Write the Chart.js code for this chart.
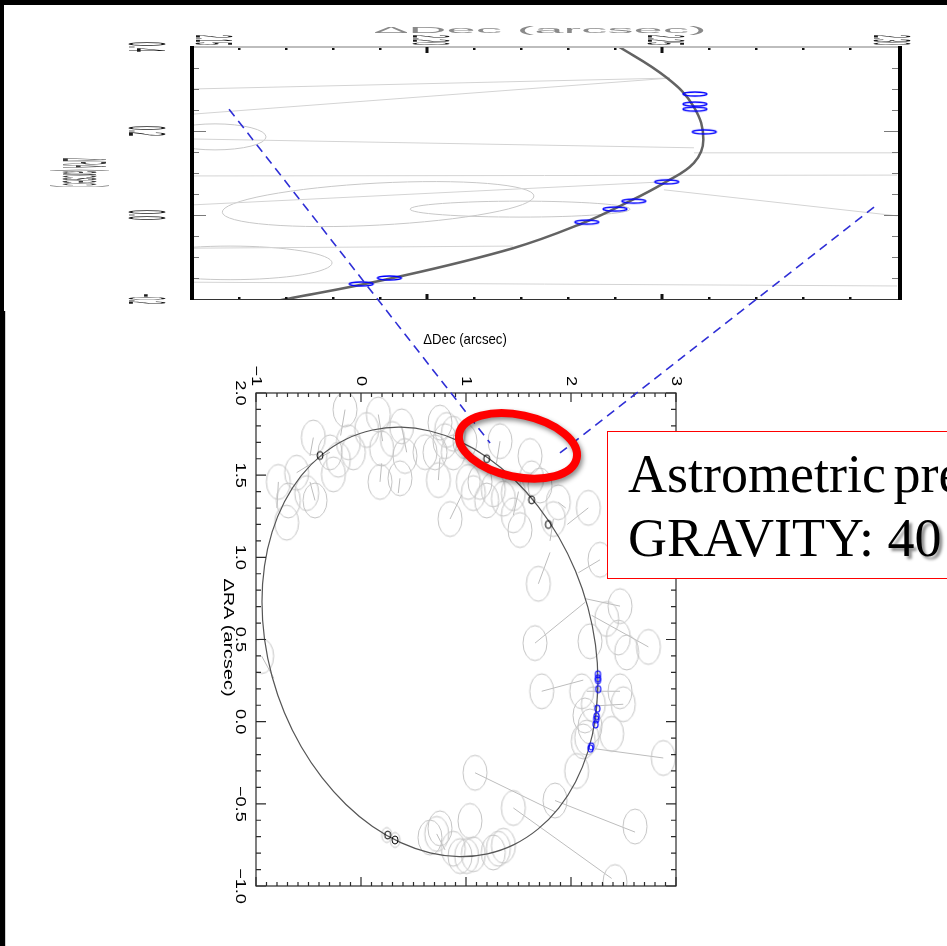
<!DOCTYPE html>
<html>
<head>
<meta charset="utf-8">
<script src="https://cdn.jsdelivr.net/npm/chart.js@4.4.1/dist/chart.umd.min.js"></script>
<style>
html,body{margin:0;padding:0;background:#fff;width:947px;height:946px;overflow:hidden;position:relative;}
canvas{position:absolute;left:0;top:0;}
#inset{z-index:1}
#main{z-index:2}
.bar{position:absolute;background:#000;z-index:6}
#box{position:absolute;left:607px;top:431px;width:420px;height:146px;border:1.5px solid #ff0000;background:#fff;z-index:5;overflow:hidden;
 font-family:"Liberation Serif","Times New Roman",serif;font-size:54px;color:#000;}
#box div{position:absolute;left:20px;line-height:54px;white-space:nowrap;}
#l1{top:15px;word-spacing:-6px;}
#l2{top:79px;}
#l2 span{text-shadow:3px 3px 3px rgba(0,0,0,0.45);}
</style>
</head>
<body>
<div class="bar" style="left:0;top:0;width:947px;height:5px"></div>
<div class="bar" style="left:0;top:0;width:4px;height:311px"></div>
<div class="bar" style="left:0;top:311px;width:5px;height:635px"></div>
<div style="position:absolute;left:5px;top:311px;width:1px;height:635px;background:#cfcfcf;z-index:6"></div>
<canvas id="inset" width="947" height="946"></canvas>
<canvas id="main" width="947" height="946"></canvas>
<div id="box"><div id="l1">Astrometric precision</div><div id="l2">GRAVITY: <span>40 µas</span></div></div>
<script>
// ================= DATA =================
// main plot axes
const decTickValues = [-1, 0, 1, 2, 3];
const decTickLabels = ['−1', '0', '1', '2', '3'];
const raTickValues = [2.0, 1.5, 1.0, 0.5, 0.0, -0.5, -1.0];
const raTickLabels = ['2.0', '1.5', '1.0', '0.5', '0.0', '−0.5', '−1.0'];

// orbit (ΔDec, ΔRA), closed
const orbitDec = [2.257, 2.233, 2.161, 2.043, 1.883, 1.685, 1.457, 1.204, 0.935, 0.657, 0.379, 0.110,
  -0.143, -0.371, -0.569, -0.729, -0.847, -0.919, -0.943, -0.919, -0.847, -0.729, -0.569, -0.371,
  -0.143, 0.110, 0.379, 0.657, 0.935, 1.204, 1.457, 1.685, 1.883, 2.043, 2.161, 2.233, 2.257, 2.233];
const orbitRA = [0.242, 0.023, -0.182, -0.367, -0.526, -0.654, -0.748, -0.804, -0.821, -0.798, -0.736, -0.638,
  -0.504, -0.341, -0.153, 0.054, 0.275, 0.502, 0.729, 0.948, 1.153, 1.338, 1.497, 1.625,
  1.719, 1.775, 1.792, 1.769, 1.707, 1.608, 1.475, 1.312, 1.124, 0.917, 0.696, 0.469, 0.242, 0.023];

// precise (black) measurements
const blackDec = [-0.390, 1.197, 1.625, 1.784, 0.254, 0.324];
const blackRA = [1.620, 1.600, 1.350, 1.200, -0.690, -0.720];

// GRAVITY (blue) measurements
const blueDec = [2.257, 2.257, 2.257, 2.259, 2.251, 2.244, 2.240, 2.234, 2.192, 2.186];
const blueRA = [0.288, 0.264, 0.252, 0.198, 0.079, 0.033, 0.014, -0.017, -0.150, -0.164];

// grey (confused) measurements
const greyDec = [
 -0.152, 0.165, -0.454, 0.054, 0.387, -0.295, -0.216, -0.073, 0.197, 0.419,
 -0.787, -0.613, -0.692, -0.708, -0.438, -0.263, 0.181, 0.371, -0.517, -0.120, 0.300,
 0.752, 0.816, 0.800, 0.879, 0.705, 0.879, 0.737, 0.990, 1.324, 1.133,
 1.022, 0.848, 1.197, 1.356, 1.451, 1.610, 1.625, 1.705, 1.879, 2.165,
 1.832, 1.514, 1.451, 1.260, 1.070, 0.610,
 2.276, 1.689, 2.467, 2.340, 2.451, 2.530, 2.737, 1.657, 2.181, 2.467,
 2.498, 2.102, 2.213, 2.387, 1.721, 2.181, 2.149, 2.879, 2.054, 1.848,
 2.610, 1.086, 1.451, 2.419, 2.117, 2.133,
 0.721, 0.752, 1.038, 0.943, 1.006, 1.070, 1.260, 1.308, 1.356, 0.657, 0.879,
 -0.946];
const greyRA = [
 1.899, 1.869, 1.729, 1.775, 1.797, 1.639, 1.594, 1.639, 1.662, 1.617,
 1.459, 1.515, 1.346, 1.211, 1.346, 1.505, 1.459, 1.481, 1.391, 1.700, 1.720,
 1.820, 1.775, 1.707, 1.752, 1.639, 1.639, 1.470, 1.707, 1.707, 1.459,
 1.459, 1.233, 1.346, 1.357, 1.391, 1.617, 1.481, 1.437, 1.335, 1.301,
 1.233, 1.166, 1.256, 1.414, 1.391, 1.640,
 0.985, 0.839, 0.703, 0.625, 0.512, 0.421, 0.455, 0.478, 0.489, 0.185,
 0.106, 0.185, 0.106, -0.074, 0.185, -0.029, -0.097, -0.221, -0.300, -0.480,
 -0.638, -0.311, -0.525, -0.976, -0.120, 0.038,
 -0.683, -0.649, -0.604, -0.818, -0.818, -0.807, -0.796, -0.773, -0.755, -0.705, -0.773,
 0.399];
const smallGreyDec = [0.245, 0.325];
const smallGreyRA = [-0.690, -0.720];

// grey residual lines (from measurement to orbit)
const segDecA = [-0.152, 0.165, -0.454, 0.387, -0.787, -0.613, -0.438, 0.181, 0.371, 0.737, 1.324, 0.848, 1.879, 2.165, 2.276, 1.689, 2.467, 2.737, 1.657, 2.467, 2.498, 1.721, 2.879, 1.848, 1.086, 1.451, -0.946, 0.721, -0.295, 1.451, 1.832];
const segRAA = [1.899, 1.869, 1.729, 1.797, 1.459, 1.515, 1.346, 1.459, 1.481, 1.470, 1.707, 1.233, 1.335, 1.301, 0.985, 0.839, 0.703, 0.455, 0.478, 0.185, 0.106, 0.185, -0.221, -0.480, -0.311, -0.525, 0.399, -0.683, 1.639, 1.256, 1.233];
const segDecB = [-0.194, 0.206, -0.486, 0.435, -0.800, -0.450, -0.486, 0.197, 0.355, 0.752, 1.290, 0.959, 1.950, 1.965, 2.070, 1.800, 2.133, 2.197, 2.133, 2.150, 2.210, 2.117, 2.229, 2.610, 1.848, 2.387, -0.830, 0.800, -0.390, 1.500, 1.800];
const segRAB = [1.741, 1.707, 1.617, 1.639, 1.300, 1.580, 1.459, 1.572, 1.391, 1.605, 1.572, 1.380, 1.300, 1.200, 0.906, 1.030, 0.749, 0.647, 0.726, 0.185, 0.095, 0.253, -0.165, -0.672, -0.548, -0.954, 0.264, -0.780, 1.610, 1.400, 1.100];

// inset (zoom on the pericentre region)
const insetDecTicks = [2.15, 2.20, 2.25, 2.30];
const insetDecLabels = ['2.15', '2.20', '2.25', '2.30'];
const insetRATicks = [0.4, 0.2, 0.0, -0.2];
const insetRALabels = ['0.4', '0.2', '0.0', '−0.2'];
const insetCurveDec = [2.236, 2.2409, 2.2511, 2.2568, 2.2588, 2.2568, 2.2504, 2.2428, 2.2332, 2.2183, 2.1927, 2.1702, 2.160];
const insetCurveRA = [0.430, 0.400, 0.326, 0.257, 0.179, 0.124, 0.076, 0.031, -0.019, -0.079, -0.150, -0.200, -0.220];
const insetSegDecA = [2.15, 2.15, 2.15, 2.2568, 2.15, 2.2504, 2.15, 2.15, 2.15];
const insetSegRAA = [0.300, 0.240, 0.181, 0.148, 0.093, 0.060, 0.024, -0.079, -0.160];
const insetSegDecB = [2.2517, 2.2517, 2.2568, 2.30, 2.30, 2.30, 2.2504, 2.2183, 2.30];
const insetSegRAB = [0.326, 0.326, 0.160, 0.148, 0.095, -0.002, 0.079, -0.074, -0.169];
const insetEllDec = [2.1549, 2.1896, 2.2198, 2.1581];
const insetEllRA = [0.186, 0.026, 0.014, -0.114];
const insetEllRDec = [0.01085, 0.0332, 0.0234, 0.0217];
const insetEllRRA = [0.031, 0.050, 0.019, 0.040];
const insetEllTilt = [0, -3, 0, 0];

// annotation anchors (main-plot data coordinates)
const annot = {
  lineA: [[-1.257, 3.727], [1.229, 1.696]],
  lineB: [[4.886, 3.131], [1.895, 1.635]],
  ring: [1.495, 1.678]
};

// ================= HELPERS =================
const pts = (xs, ys) => xs.map((x, i) => ({x: x, y: ys[i]}));
function segs(xa, ya, xb, yb) {
  const out = [];
  xa.forEach((x, i) => { out.push({x: x, y: ya[i]}, {x: xb[i], y: yb[i]}, {x: null, y: null}); });
  return out;
}
function ellImg(w, h, color, lw) {
  const c = document.createElement('canvas');
  const pad = Math.ceil(lw) + 1;
  c.width = w + 2 * pad; c.height = h + 2 * pad;
  const g = c.getContext('2d');
  g.strokeStyle = color; g.lineWidth = lw;
  g.beginPath(); g.ellipse(c.width / 2, c.height / 2, w / 2, h / 2, 0, 0, Math.PI * 2); g.stroke();
  return c;
}
function rotText(ctx, text, x, y, align, stretch) {
  ctx.save(); ctx.translate(x, y); ctx.rotate(Math.PI / 2); ctx.scale(stretch, 1);
  ctx.textAlign = align; ctx.textBaseline = 'middle'; ctx.fillText(text, 0, 0); ctx.restore();
}
function squash(ctx, text, cx, cy, readLen, thick, color, rot) {
  ctx.save();
  ctx.font = '20px "Liberation Sans", Arial, sans-serif';
  const w = ctx.measureText(text).width;
  ctx.translate(cx, cy); ctx.rotate(rot); ctx.scale(readLen / w, thick / 14.5);
  ctx.textAlign = 'center'; ctx.textBaseline = 'middle'; ctx.fillStyle = color;
  ctx.fillText(text, 0, 0);
  ctx.restore();
}
function seg(ctx, x1, y1, x2, y2) { ctx.moveTo(x1, y1); ctx.lineTo(x2, y2); }

// ================= MAIN PLOT =================
const mainDecor = {
  id: 'mainDecor',
  afterDatasetsDraw(chart) {
    const ctx = chart.ctx, a = chart.chartArea, x = chart.scales.x, y = chart.scales.y;
    ctx.save();
    ctx.strokeStyle = '#2a2a2a'; ctx.lineWidth = 1.2;
    ctx.strokeRect(a.left, a.top, a.right - a.left, a.bottom - a.top);
    ctx.beginPath();
    for (let i = 0; i <= 40; i++) {
      const px = x.getPixelForValue(-1 + i * 0.1);
      const L = (i % 10 === 0) ? 9 : 4;
      seg(ctx, px, a.top, px, a.top + L);
      seg(ctx, px, a.bottom, px, a.bottom - L);
    }
    for (let i = 0; i <= 30; i++) {
      const py = y.getPixelForValue(-1 + i * 0.1);
      const L = (i % 5 === 0) ? 10 : 5;
      seg(ctx, a.left, py, a.left + L, py);
      seg(ctx, a.right, py, a.right - L, py);
    }
    ctx.stroke();
    ctx.fillStyle = '#000';
    ctx.font = '14px "Liberation Sans", Arial, sans-serif';
    decTickValues.forEach((v, i) => rotText(ctx, decTickLabels[i], x.getPixelForValue(v), a.top - 7, 'right', 1.3));
    raTickValues.forEach((v, i) => rotText(ctx, raTickLabels[i], a.left - 16, y.getPixelForValue(v), 'center', 1.3));
    rotText(ctx, 'ΔRA (arcsec)', a.left - 28, (a.top + a.bottom) / 2 - 2, 'center', 1.42);
    ctx.save();
    ctx.font = '15px "Liberation Sans", Arial, sans-serif';
    ctx.translate(465, 344); ctx.scale(0.88, 1);
    ctx.textAlign = 'center'; ctx.textBaseline = 'alphabetic';
    ctx.fillText('ΔDec (arcsec)', 0, 0);
    ctx.restore();
    ctx.restore();
  },
  afterDraw(chart) {
    const ctx = chart.ctx, x = chart.scales.x, y = chart.scales.y;
    ctx.save();
    ctx.setLineDash([9, 6]);
    ctx.strokeStyle = '#2f2fd6'; ctx.lineWidth = 1.6;
    [annot.lineA, annot.lineB].forEach(l => {
      ctx.beginPath();
      ctx.moveTo(x.getPixelForValue(l[0][0]), y.getPixelForValue(l[0][1]));
      ctx.lineTo(x.getPixelForValue(l[1][0]), y.getPixelForValue(l[1][1]));
      ctx.stroke();
    });
    ctx.setLineDash([]);
    ctx.shadowColor = 'rgba(0,0,0,0.45)'; ctx.shadowBlur = 5; ctx.shadowOffsetX = 2; ctx.shadowOffsetY = 3;
    ctx.strokeStyle = '#ff0000'; ctx.lineWidth = 8;
    ctx.beginPath();
    ctx.ellipse(x.getPixelForValue(annot.ring[0]), y.getPixelForValue(annot.ring[1]), 60, 31, 12 * Math.PI / 180, 0, Math.PI * 2);
    ctx.stroke();
    ctx.restore();
  }
};

new Chart(document.getElementById('main'), {
  type: 'scatter',
  data: {
    datasets: [
      {label: 'GRAVITY', data: pts(blueDec, blueRA), pointStyle: ellImg(5, 7, '#0000ff', 1.2), pointRadius: 4},
      {label: 'precise', data: pts(blackDec, blackRA), pointStyle: ellImg(6, 8, '#000000', 1), pointRadius: 4},
      {label: 'orbit', data: pts(orbitDec, orbitRA), showLine: true, pointRadius: 0, borderColor: '#555555', borderWidth: 1.2, tension: 0.4},
      {label: 'small grey', data: pts(smallGreyDec, smallGreyRA), pointStyle: ellImg(10, 15, '#c4c4c4', 1), pointRadius: 6, clip: 0},
      {label: 'grey', data: pts(greyDec, greyRA), pointStyle: ellImg(24, 35, '#c4c4c4', 1), pointRadius: 10, clip: 0},
      {label: 'residuals', data: segs(segDecA, segRAA, segDecB, segRAB), showLine: true, pointRadius: 0, borderColor: '#bdbdbd', borderWidth: 1, spanGaps: false, clip: 0}
    ]
  },
  options: {
    responsive: false, animation: false, devicePixelRatio: 1, events: [],
    layout: {padding: {left: 256, right: 271, top: 393, bottom: 60}},
    plugins: {legend: {display: false}, tooltip: {enabled: false}},
    scales: {
      x: {type: 'linear', min: -1, max: 3, display: false},
      y: {type: 'linear', min: -1, max: 2, display: false}
    }
  },
  plugins: [mainDecor]
});

// ================= INSET =================
const insetDecor = {
  id: 'insetDecor',
  beforeDatasetsDraw(chart) {
    const ctx = chart.ctx, a = chart.chartArea, x = chart.scales.x, y = chart.scales.y;
    ctx.save();
    ctx.beginPath(); ctx.rect(a.left, a.top, a.right - a.left, a.bottom - a.top); ctx.clip();
    ctx.strokeStyle = '#c8c8c8'; ctx.lineWidth = 1;
    insetEllDec.forEach((d, i) => {
      const cx = x.getPixelForValue(d), cy = y.getPixelForValue(insetEllRA[i]);
      const rx = Math.abs(x.getPixelForValue(d + insetEllRDec[i]) - cx);
      const ry = Math.abs(y.getPixelForValue(insetEllRA[i] + insetEllRRA[i]) - cy);
      ctx.beginPath(); ctx.ellipse(cx, cy, rx, ry, insetEllTilt[i] * Math.PI / 180, 0, Math.PI * 2); ctx.stroke();
    });
    ctx.restore();
  },
  afterDatasetsDraw(chart) {
    const ctx = chart.ctx, a = chart.chartArea, x = chart.scales.x, y = chart.scales.y;
    ctx.save();
    // top / bottom borders
    ctx.strokeStyle = '#bdbdbd'; ctx.lineWidth = 2;
    ctx.beginPath(); seg(ctx, a.left, a.top, a.right + 3, a.top); ctx.stroke();
    ctx.strokeStyle = '#333'; ctx.lineWidth = 1;
    ctx.beginPath(); seg(ctx, a.left, a.bottom + 0.5, a.right + 3, a.bottom + 0.5); ctx.stroke();
    // horizontal-axis ticks
    ctx.fillStyle = '#111';
    for (let i = 1; i < 15; i++) {
      const px = x.getPixelForValue(2.15 + i * 0.01);
      if (i % 5 === 0) {
        ctx.fillRect(px - 1.5, a.top, 3, 6);
        ctx.fillRect(px - 1.5, a.bottom - 5, 3, 5);
      } else {
        ctx.fillRect(px - 1, a.top + 1, 2.5, 2);
        ctx.fillRect(px - 1, a.bottom - 2, 2.5, 2);
      }
    }
    // vertical-axis ticks
    ctx.strokeStyle = '#7a7a7a'; ctx.lineWidth = 1;
    ctx.beginPath();
    for (let i = 1; i < 12; i++) {
      const py = Math.round(y.getPixelForValue(-0.2 + i * 0.05)) + 0.5;
      const major = (i % 4 === 0);
      seg(ctx, a.left + 2, py, a.left + (major ? 14 : 7), py);
      seg(ctx, a.right + 1, py, a.right + 1 - (major ? 14 : 6), py);
    }
    ctx.stroke();
    // thick left / right borders
    ctx.fillStyle = '#000';
    ctx.fillRect(a.left - 2, a.top - 1, 4, a.bottom - a.top + 2);
    ctx.fillRect(a.right + 1, a.top - 1, 4, a.bottom - a.top + 2);
    // labels (squashed, rotated as in the picture)
    insetDecTicks.forEach((v, i) => {
      const px = Math.min(Math.max(x.getPixelForValue(v), a.left + 18), a.right - 9);
      squash(ctx, insetDecLabels[i], px, 40, 10, 37, '#1a1a1a', Math.PI / 2);
    });
    insetRATicks.forEach((v, i) => squash(ctx, insetRALabels[i], 143, y.getPixelForValue(v), 10, 37, '#1a1a1a', Math.PI / 2));
    squash(ctx, 'ΔDec (arcsec)', 540, 30.5, 333, 6, '#8a8a8a', 0);
    squash(ctx, 'ΔRA (arcsec)', 80, 172.5, 29, 46, '#3a3a3a', Math.PI / 2);
    ctx.restore();
  }
};

new Chart(document.getElementById('inset'), {
  type: 'scatter',
  data: {
    datasets: [
      {label: 'GRAVITY', data: pts(blueDec, blueRA), pointStyle: ellImg(24, 4, '#0000ff', 1.5), pointRadius: 6},
      {label: 'orbit', data: pts(insetCurveDec, insetCurveRA), showLine: true, pointRadius: 0, borderColor: '#636363', borderWidth: 2.5, tension: 0.4, clip: 0},
      {label: 'residuals', data: segs(insetSegDecA, insetSegRAA, insetSegDecB, insetSegRAB), showLine: true, pointRadius: 0, borderColor: '#d4d4d4', borderWidth: 1, spanGaps: false, clip: 0}
    ]
  },
  options: {
    responsive: false, animation: false, devicePixelRatio: 1, events: [],
    layout: {padding: {left: 192, right: 50, top: 47, bottom: 647}},
    plugins: {legend: {display: false}, tooltip: {enabled: false}},
    scales: {
      x: {type: 'linear', min: 2.15, max: 2.30, display: false},
      y: {type: 'linear', min: -0.2, max: 0.4, display: false}
    }
  },
  plugins: [insetDecor]
});
</script>
</body>
</html>
